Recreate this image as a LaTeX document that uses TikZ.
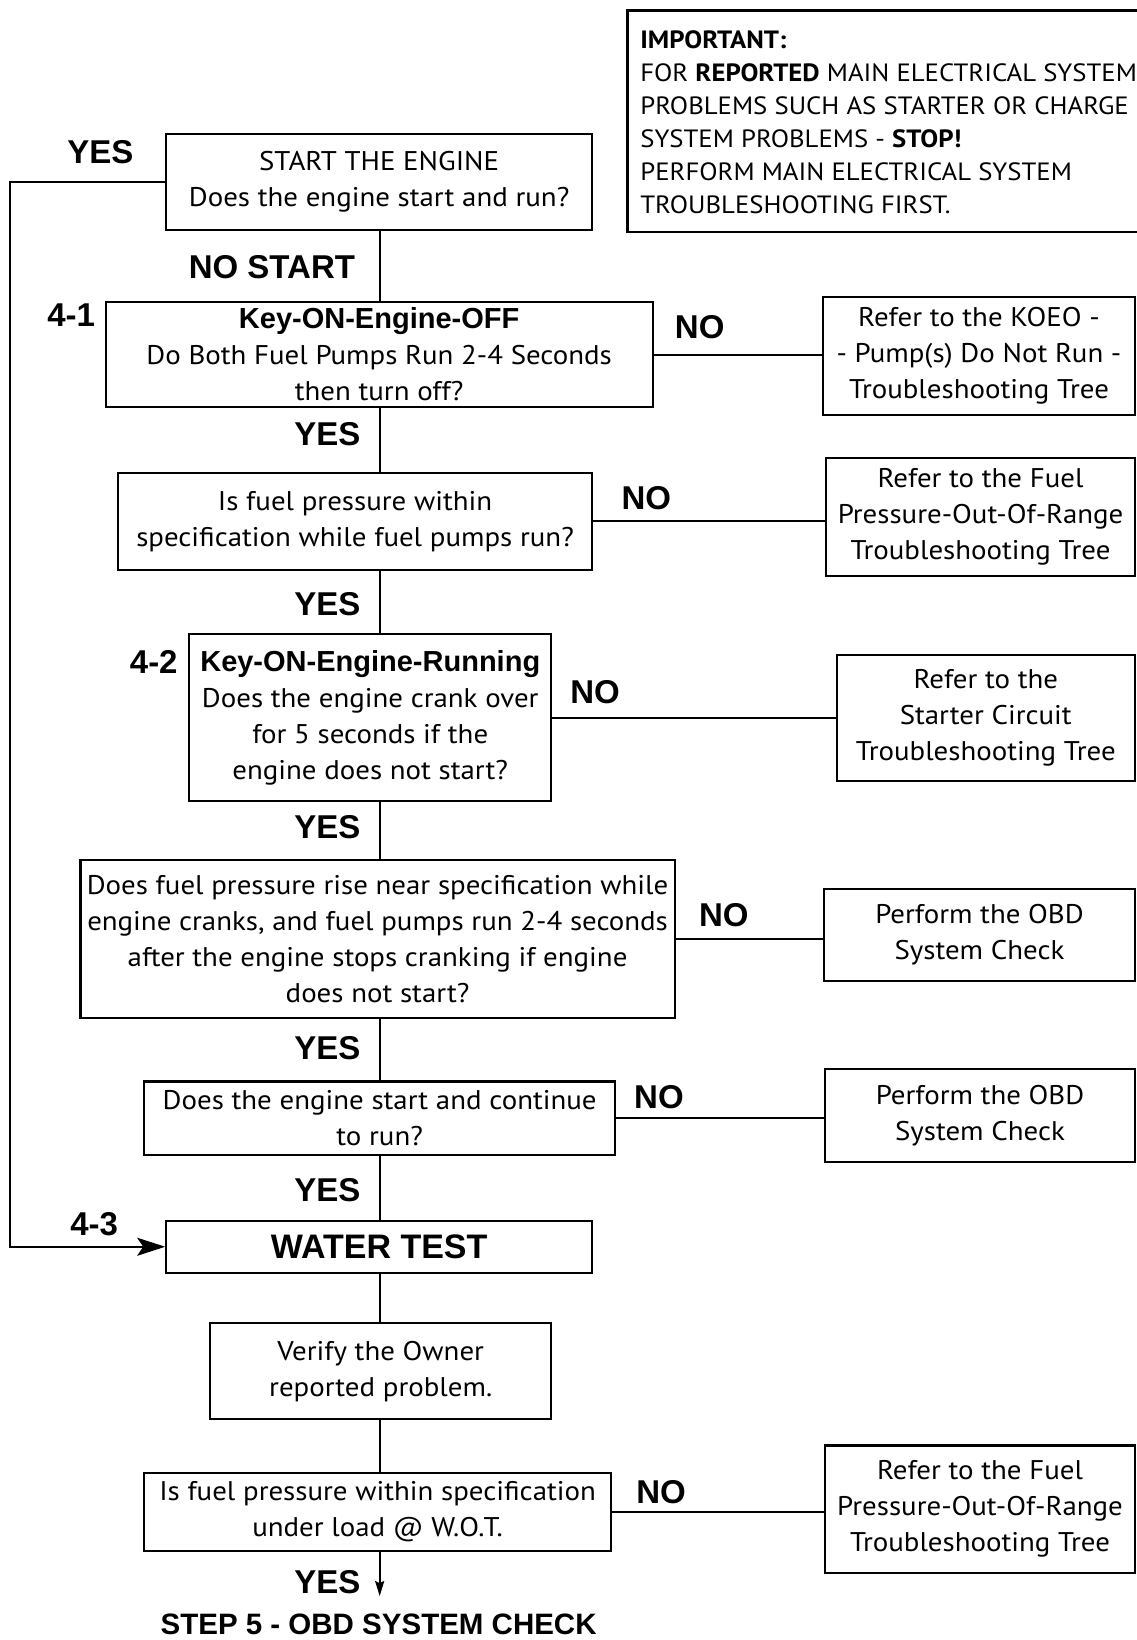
\documentclass[tikz,border=0pt]{standalone}
\usepackage{fontspec}
\setmainfont{PT Sans}[FakeStretch=1.07]
\newfontfamily\hfam{Liberation Sans}
\usetikzlibrary{arrows.meta}
\newcommand\bodyf{\fontsize{27}{36}\selectfont}
\newcommand\impf{\fontsize{25}{33}\selectfont}
\newcommand\labf{\hfam\bfseries\fontsize{33}{36}\selectfont}
\newcommand\ktf{\hfam\bfseries\fontsize{29}{36}\selectfont}
\newcommand\fbx[6]{\node[box, minimum width={(#4-#2)*1.046pt}, minimum height={(#5-#3)*1.046pt}] (#1) at ({(#2+#4)/2},{(#3+#5)/2}) {#6};}
\begin{document}
\begin{tikzpicture}[x=1.046pt,y=-1.046pt,
  box/.style={draw, line width=2.2pt, inner sep=0pt, align=center, font=\bodyf},
  ln/.style={line width=2pt},
  lab/.style={font=\labf, inner sep=0pt}]
\useasboundingbox (0,0) rectangle (1087,1568);
% important box
\fbx{imp}{600}{10}{1100}{222}{}
\node[anchor=west, align=left, inner sep=0pt, font=\impf] (imptext) at (612,117)
 {\textbf{IMPORTANT:}\\
  FOR \textbf{REPORTED} MAIN ELECTRICAL SYSTEM\\
  PROBLEMS SUCH AS STARTER OR CHARGE\\
  SYSTEM PROBLEMS - \textbf{STOP!}\\
  PERFORM MAIN ELECTRICAL SYSTEM\\
  TROUBLESHOOTING FIRST.};
% main column
\fbx{start}{159}{128}{566}{220}{START THE ENGINE\\Does the engine start and run?}
\fbx{koeo}{101}{289}{624}{389}{{\ktf Key-ON-Engine-OFF}\\Do Both Fuel Pumps Run 2-4 Seconds\\then turn off?}
\fbx{press}{113}{452}{566}{545}{Is fuel pressure within\\specification while fuel pumps run?}
\fbx{koer}{181}{606}{527}{766}{{\ktf Key-ON-Engine-Running}\\Does the engine crank over\\for 5 seconds if the\\engine does not start?}
\fbx{rise}{77}{822}{645}{973}{Does fuel pressure rise near specification while\\engine cranks, and fuel pumps run 2-4 seconds\\after the engine stops cranking if engine\\does not start?}
\fbx{cont}{138}{1034}{588}{1104}{Does the engine start and continue\\to run?}
\fbx{water}{159}{1167}{566}{1217}{\ktf\fontsize{34}{36}\selectfont WATER TEST}
\fbx{verify}{201}{1265}{527}{1357}{Verify the Owner\\reported problem.}
\fbx{wot}{138}{1408}{584}{1483}{Is fuel pressure within specification\\under load @ W.O.T.}
% right column
\fbx{r1}{787}{284}{1085}{397}{Refer to the KOEO -\\- Pump(s) Do Not Run -\\Troubleshooting Tree}
\fbx{r2}{790}{438}{1085}{551}{Refer to the Fuel\\Pressure-Out-Of-Range\\Troubleshooting Tree}
\fbx{r3}{800}{626}{1085}{747}{Refer to the\\Starter Circuit\\Troubleshooting Tree}
\fbx{r4}{788}{850}{1085}{938}{Perform the OBD\\System Check}
\fbx{r5}{789}{1022}{1085}{1111}{Perform the OBD\\System Check}
\fbx{r6}{789}{1382}{1085}{1504}{Refer to the Fuel\\Pressure-Out-Of-Range\\Troubleshooting Tree}
% end text
\node[lab, font=\hfam\bfseries\fontsize{29.5}{32}\selectfont] (step5) at (362,1553) {STEP 5 - OBD SYSTEM CHECK};
% coordinates
\coordinate (mx) at (363,0);
\coordinate (lx) at (10,0);
\coordinate (aend) at (363,1526);
% vertical connectors
\draw[ln] (start.south -| mx) -- (koeo.north -| mx);
\draw[ln] (koeo.south -| mx) -- (press.north -| mx);
\draw[ln] (press.south -| mx) -- (koer.north -| mx);
\draw[ln] (koer.south -| mx) -- (rise.north -| mx);
\draw[ln] (rise.south -| mx) -- (cont.north -| mx);
\draw[ln] (cont.south -| mx) -- (water.north -| mx);
\draw[ln] (water.south -| mx) -- (verify.north -| mx);
\draw[ln] (verify.south -| mx) -- (wot.north -| mx);
\draw[ln, -{Stealth[length=15pt,width=9pt,inset=2pt]}] (wot.south -| mx) -- (aend);
% horizontal connectors
\draw[ln] (koeo.east) -- (koeo.east -| r1.west);
\draw[ln] (press.east) -- (press.east -| r2.west);
\draw[ln] (koer.east) -- (koer.east -| r3.west);
\draw[ln] (rise.east) -- (rise.east -| r4.west);
\draw[ln] (cont.east) -- (cont.east -| r5.west);
\draw[ln] (wot.east) -- (wot.east -| r6.west);
% loop
\draw[ln, -{Stealth[length=28pt,width=18pt,inset=6pt]}] (start.west) -- (start.west -| lx) -- (water.west -| lx) -- (water.west);
% labels
\node[lab] (ly0) at (96,145) {YES};
\node[lab] (lns) at (260,255) {NO START};
\node[lab] (l41) at (68,301) {4-1};
\node[lab] (ln1) at (669,313) {NO};
\node[lab] (ly1) at (313,415) {YES};
\node[lab] (ln2) at (618,476) {NO};
\node[lab] (ly2) at (313,578) {YES};
\node[lab] (l42) at (147,633) {4-2};
\node[lab] (ln3) at (569,662) {NO};
\node[lab] (ly3) at (313,791) {YES};
\node[lab] (ln4) at (692,875) {NO};
\node[lab] (ly4) at (313,1002) {YES};
\node[lab] (ln5) at (630,1049) {NO};
\node[lab] (ly5) at (313,1138) {YES};
\node[lab] (l43) at (90,1170) {4-3};
\node[lab] (ln6) at (632,1427) {NO};
\node[lab] (ly6) at (313,1513) {YES};
\end{tikzpicture}
\end{document}
